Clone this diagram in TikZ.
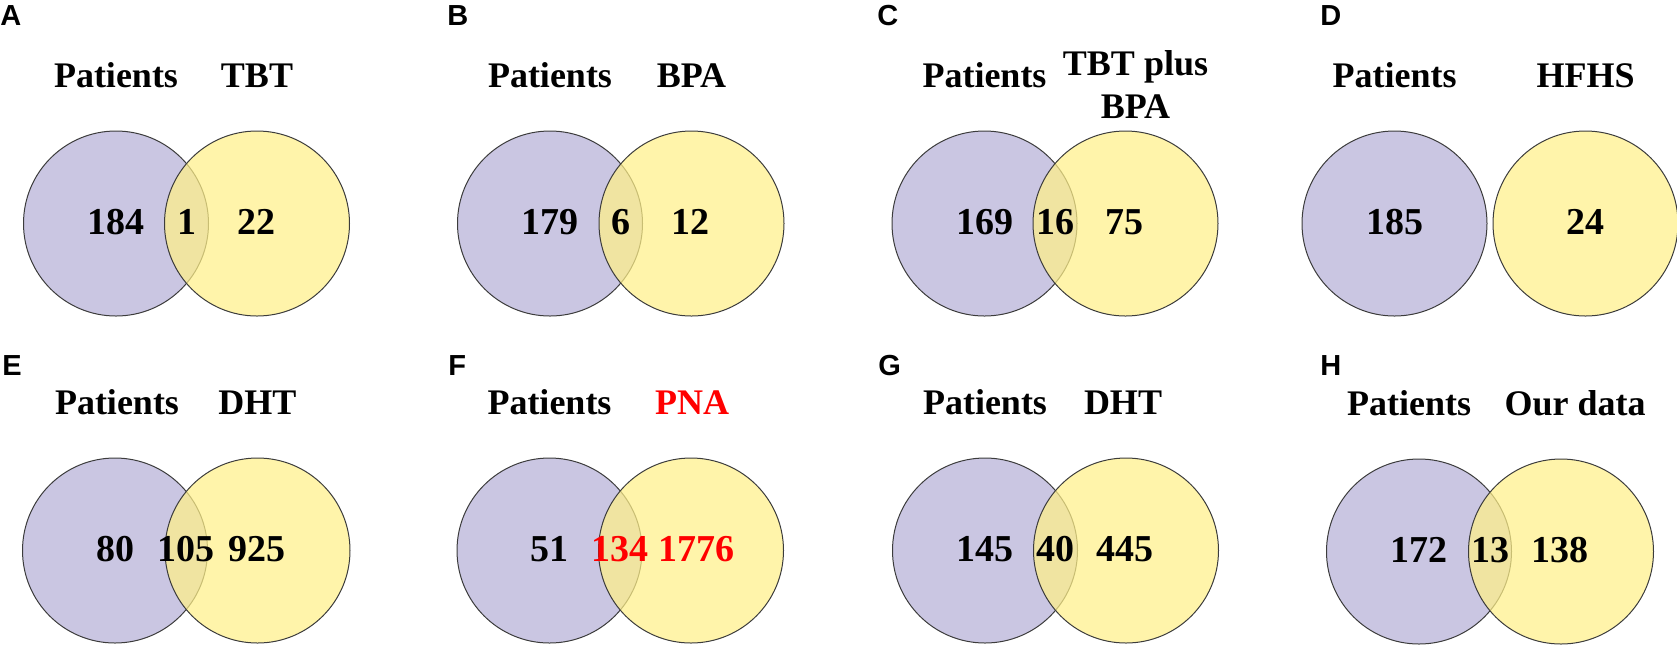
\documentclass[tikz,border=0pt]{standalone}
\usepackage{fontspec}
\setmainfont{Liberation Serif}
\newfontfamily\panelfont{Liberation Sans}
\usetikzlibrary{calc}

\definecolor{patfill}{RGB}{202,198,226}
\definecolor{expfill}{RGB}{255,240,137}
\definecolor{rim}{RGB}{60,60,60}
\definecolor{hit}{RGB}{255,0,0}

\begin{document}
\begin{tikzpicture}[
	x = 0.5pt, y = -0.5pt,
	patients/.style = {circle, draw = rim, line width = 0.5pt, fill = patfill, minimum size = 92.5pt, inner sep = 0pt},
	exposed/.style = {patients, fill = expfill, fill opacity = 0.72},
	lab/.style = {font = \fontsize{18}{21.5}\selectfont\bfseries, inner sep = 0pt, anchor = base},
	num/.style = {font = \fontsize{19}{21}\selectfont\bfseries, inner sep = 0pt},
	letter/.style = {font = \fontsize{14.5}{16}\selectfont\panelfont\bfseries, inner sep = 0pt, anchor = base west}
]

\useasboundingbox (0, 0) rectangle (1677, 645);

% circles, one pair per panel
\foreach \p/\lx/\rx/\cy in {A/116/257/223.5, B/550/691.5/223.5, C/984.5/1125.5/223.5, D/1394.5/1585.5/223.5,
		E/115/257.5/550.5, F/549.5/691/550.5, G/985/1126/550.5, H/1419/1561/551.5} {
	\node[patients] (pat\p) at (\lx, \cy) {};
	\node[exposed] (exp\p) at (\rx, \cy) {};
}

\foreach \p/\x/\y in {A/0/25, B/447/25, C/877/25, D/1320/25, E/2/375, F/448/375, G/878/375, H/1320/375}
	\node[letter] (tag\p) at (\x, \y) {\p};

\foreach \p/\dx in {A/0, B/0, C/0, D/0, E/2, F/0, G/0, H/-10}
	\node[lab] (who\p) at ($(pat\p) + (\dx, -136.5)$) {Patients};

\node[lab] (whatA) at ($(expA) + (0, -136.5)$) {TBT};
\node[lab] (whatB) at ($(expB) + (0, -136.5)$) {BPA};
\node[lab, align = center, anchor = north] (whatC) at ($(expC) + (10, -173)$) {TBT plus\\BPA};
\node[lab] (whatD) at ($(expD) + (0, -136.5)$) {HFHS};
\node[lab] (whatE) at ($(expE) + (0, -136.5)$) {DHT};
\node[lab, text = hit] (whatF) at ($(expF) + (1, -136.5)$) {PNA};
\node[lab] (whatG) at ($(expG) + (-3, -136.5)$) {DHT};
\node[lab] (whatH) at ($(expH) + (14, -136.5)$) {Our data};

% counts
\foreach \p/\a/\b/\c in {A/184/1/22, B/179/6/12, C/169/16/75, E/80/105/925, G/145/40/445, H/172/13/138} {
	\node[num] (only\p) at ($(pat\p) + (0, -1.5)$) {\a};
	\node[num] (both\p) at ($(pat\p)!0.5!(exp\p) + (0, -1.5)$) {\b};
	\node[num] (rest\p) at ($(exp\p) + (-1, -1.5)$) {\c};
}
\node[num] (onlyD) at ($(patD) + (0, -1.5)$) {185};
\node[num] (restD) at ($(expD) + (0, -1.5)$) {24};
\node[num] (onlyF) at ($(patF) + (0, -1.5)$) {51};
\node[num, text = hit] (bothF) at ($(patF)!0.5!(expF) + (0, -1.5)$) {134};
\node[num, text = hit] (restF) at ($(expF) + (5, -1.5)$) {1776};

\end{tikzpicture}
\end{document}
